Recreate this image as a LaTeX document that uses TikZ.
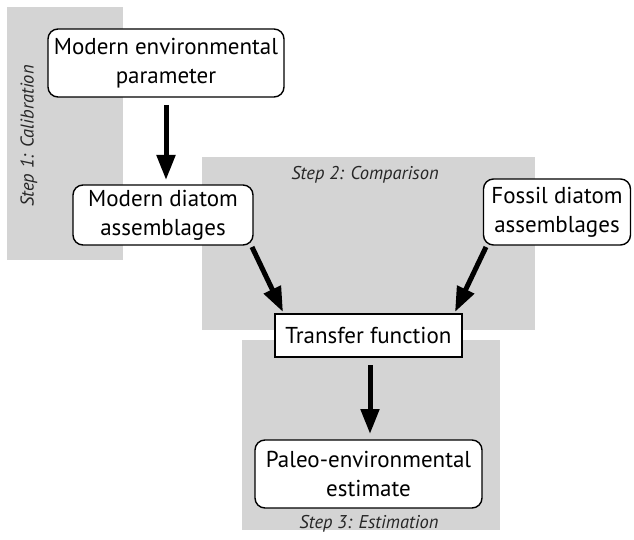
\documentclass[tikz,border=0pt]{standalone}
\usepackage{fontspec}
\setmainfont{PT Sans}
\usetikzlibrary{arrows.meta}
\definecolor{stepgray}{HTML}{D4D4D4}
\begin{document}
\begin{tikzpicture}[x=1pt,y=-1pt,
  panel/.style={fill=stepgray,draw=none},
  rbox/.style={draw=black,line width=1.4pt,rounded corners=10pt,fill=white,align=center,font=\fontsize{23}{29}\selectfont,inner sep=0pt},
  sbox/.style={draw=black,line width=1.4pt,fill=white,align=center,font=\fontsize{23}{29}\selectfont,inner sep=0pt},
  steplabel/.style={font=\fontsize{18.5}{20}\selectfont\itshape,text=black!85},
  bigarrow/.style={line width=5pt,-{Triangle[length=25pt,width=18pt]}}
]
\useasboundingbox (0,0) rectangle (634,540);
\fill[panel] (7,7) rectangle (123,260);
\fill[panel] (202,157) rectangle (535,330);
\fill[panel] (242,340) rectangle (500,530);
\node[steplabel,rotate=90] (s1) at (29,136) {Step 1: Calibration};
\node[steplabel] (s2) at (365,175) {Step 2: Comparison};
\node[steplabel] (s3) at (369,524) {Step 3: Estimation};
\node[rbox,minimum width=236pt,minimum height=68pt] (mep) at (166,63) {Modern environmental\\parameter};
\node[rbox,minimum width=180pt,minimum height=60pt] (mda) at (163,215) {Modern diatom\\assemblages};
\node[rbox,minimum width=147pt,minimum height=66pt] (fda) at (557,212) {Fossil diatom\\assemblages};
\node[sbox,minimum width=187pt,minimum height=43pt] (tf) at (368.5,335.5) {Transfer function};
\node[rbox,minimum width=227pt,minimum height=68pt] (pe) at (368.5,474) {Paleo-environmental\\estimate};
\coordinate (a1s) at (166,105);
\coordinate (a1e) at (166,180);
\coordinate (a2s) at (252,247);
\coordinate (a2e) at (283,312);
\coordinate (a3s) at (486,247);
\coordinate (a3e) at (455,312);
\coordinate (a4s) at (370,365);
\coordinate (a4e) at (370,434);
\draw[bigarrow] (a1s) -- (a1e);
\draw[bigarrow] (a2s) -- (a2e);
\draw[bigarrow] (a3s) -- (a3e);
\draw[bigarrow] (a4s) -- (a4e);
\end{tikzpicture}
\end{document}
